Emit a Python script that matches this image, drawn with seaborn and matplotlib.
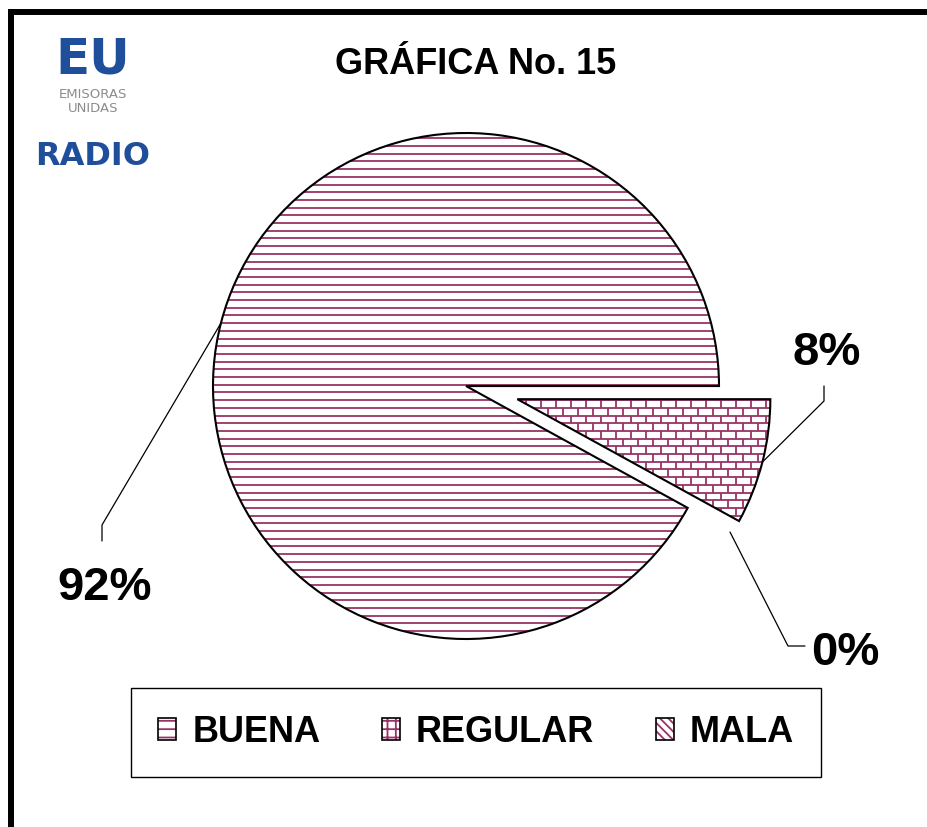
"""
Pie chart: GRÁFICA No. 15 (BUENA / REGULAR / MALA), hatched wedges with leader-line labels.
"""

import numpy as np
import matplotlib
matplotlib.use('Agg')
import matplotlib.pyplot as plt
import seaborn as sns
from matplotlib.patches import Patch
from matplotlib.collections import LineCollection

categories = ['BUENA', 'REGULAR', 'MALA']
percentages = [92, 8, 0]
pct_labels = ['92%', '8%', '0%']
title_text = 'GRÁFICA No. 15'

PLUM = '#993366'
LOGO_BLUE = '#1F4E9A'
LOGO_GREY = '#8C8C8C'

sns.set_theme(style='white')
plt.rcParams['font.family'] = ['Liberation Sans', 'DejaVu Sans']
plt.rcParams['text.color'] = 'black'
plt.rcParams['hatch.linewidth'] = 1.3

fig = plt.figure(figsize=(9.28, 8.27), dpi=100)
ax = fig.add_axes([0, 0, 1, 1])

# pie geometry in pixel-like data units (y down); explode is absolute here
cx, cy, R = 466, 386, 253
explode = [0, 53, 0]

wedges, _ = ax.pie(percentages, explode=explode, center=(cx, cy), radius=R,
                   startangle=0, counterclock=False, frame=True,
                   wedgeprops=dict(facecolor='white', linewidth=0, zorder=1))
outline, _ = ax.pie(percentages, explode=explode, center=(cx, cy), radius=R,
                    startangle=0, counterclock=False, frame=True,
                    wedgeprops=dict(fill=False, edgecolor='black', linewidth=1.5, zorder=4))

# fill patterns, clipped to the wedges
step = 7.7
ys = np.arange(cy - R - 10, cy + R + 80, step)

stripes = ax.hlines(ys, cx - R - 10, cx + R + 10, colors=PLUM, linewidth=1.3, zorder=2)
stripes.set_clip_path(wedges[0])

brick_rows = ax.hlines(ys, cx, cx + R + 90, colors=PLUM, linewidth=1.3, zorder=2)
brick_rows.set_clip_path(wedges[1])
brick_w = 15
segs = []
for i, y in enumerate(ys[:-1]):
    off = (i % 2) * brick_w / 2
    for x in np.arange(cx + off, cx + R + 90, brick_w):
        segs.append([(x, y), (x, y + step)])
joints = LineCollection(segs, colors=PLUM, linewidths=1.3, zorder=2)
ax.add_collection(joints)
joints.set_clip_path(wedges[1])


def edge_point(w):
    th = np.deg2rad((w.theta1 + w.theta2) / 2)
    return w.center[0] + w.r * np.cos(th), w.center[1] + w.r * np.sin(th)


# leader lines and labels
sx, sy = edge_point(wedges[0])
ax.plot([sx, 102, 102], [sy, 525, 541], color='black', lw=0.9, zorder=5)
ax.text(105, 600, pct_labels[0], fontsize=34, weight='bold', ha='center', va='baseline')

sx, sy = edge_point(wedges[1])
ax.plot([sx, 824, 824], [sy, 401, 386], color='black', lw=0.9, zorder=5)
ax.text(827, 365, pct_labels[1], fontsize=34, weight='bold', ha='center', va='baseline')

ax.plot([730, 788, 805], [532, 646, 646], color='black', lw=0.9, zorder=5)
ax.text(845, 665, pct_labels[2], fontsize=34, weight='bold', ha='center', va='baseline')

ax.text(476, 74, title_text, fontsize=26, weight='bold', ha='center', va='baseline')

# logo
ax.text(93, 74, 'EU', color=LOGO_BLUE, fontsize=36, weight='heavy', family='DejaVu Sans',
        ha='center', va='baseline')
ax.text(93, 88, 'EMISORAS\nUNIDAS', color=LOGO_GREY, fontsize=9.5, family='DejaVu Sans',
        ha='center', va='top', linespacing=1.05, multialignment='center')
ax.text(93, 165, 'RADIO', color=LOGO_BLUE, fontsize=23, weight='bold', family='DejaVu Sans',
        ha='center', va='baseline')

# outer frame (only top and left edges visible)
ax.plot([8, 928], [12, 12], color='black', lw=4.3, solid_capstyle='butt', clip_on=False)
ax.plot([11, 11], [9, 827], color='black', lw=4.3, solid_capstyle='butt', clip_on=False)

# legend
legend_hatches = ['--', '++', '\\\\\\\\']
handles = []
for hatch in legend_hatches:
    fill = Patch(facecolor='white', edgecolor=PLUM, hatch=hatch, linewidth=0)
    border = Patch(fill=False, edgecolor='black', linewidth=1.2)
    handles.append((fill, border))
leg = ax.legend(handles, categories, loc='center',
                bbox_to_anchor=(476 / 928, 1 - 732.5 / 827), bbox_transform=fig.transFigure,
                ncol=3, prop=dict(weight='bold', size=26), frameon=True, fancybox=False,
                edgecolor='black', framealpha=1, borderpad=0.75, handlelength=0.5,
                handleheight=0.55, handletextpad=0.45, columnspacing=1.7, borderaxespad=0,
                labelcolor='black')
leg.get_frame().set_linewidth(1.0)

ax.set_xlim(0, 928)
ax.set_ylim(827, 0)
ax.set_aspect('equal')
ax.axis('off')

fig.savefig('out.png', dpi=100, facecolor='white')
